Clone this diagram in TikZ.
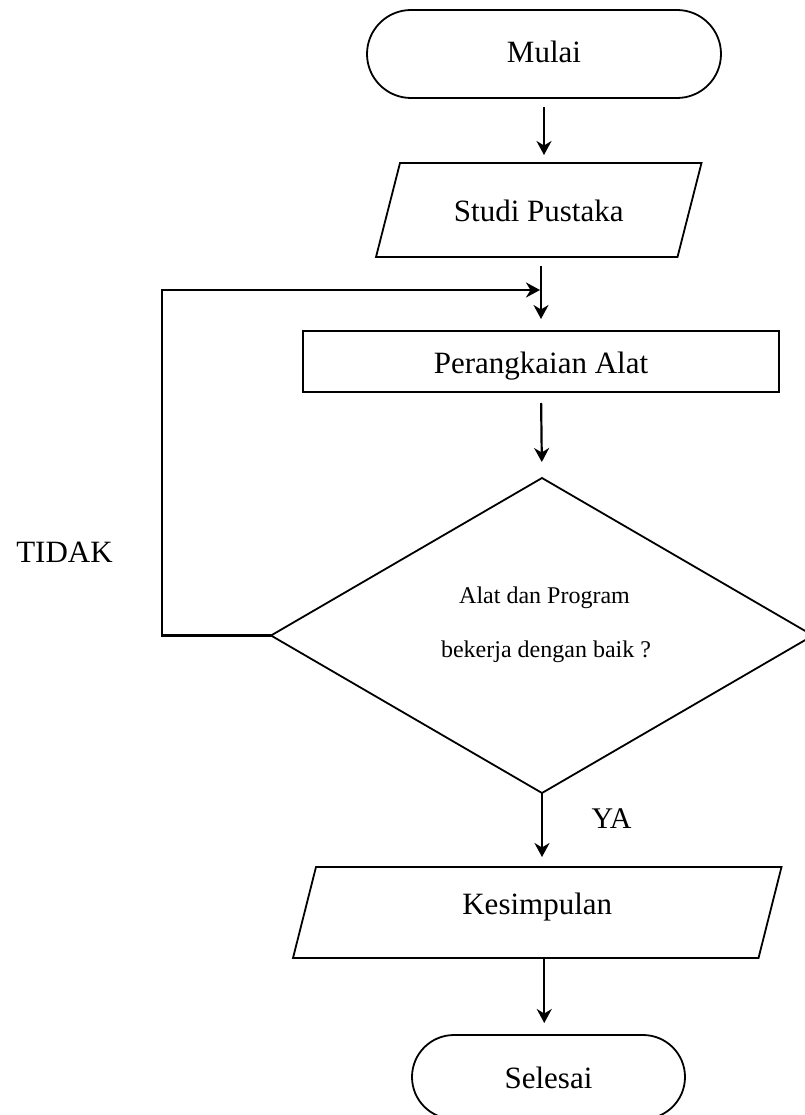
\documentclass[tikz,border=0pt]{standalone}
\usepackage{fontspec}
\setmainfont{Liberation Serif}
\usetikzlibrary{arrows.meta,shapes.geometric}
\begin{document}
\begin{tikzpicture}[x=1pt,y=-1pt,
  every node/.style={font=\fontsize{31}{36}\selectfont, inner sep=0pt, outer sep=0pt},
  shp/.style={draw, line width=1.8pt, line join=miter},
  termbox/.style={shp, rectangle, rounded corners=#1},
  parabox/.style={draw=none, rectangle, text height=22pt, text depth=0pt},
  arr/.style={line width=2.2pt, -{Stealth[length=14pt,width=15pt,inset=4.5pt]}},
  small/.style={font=\fontsize{24}{28}\selectfont},
]
\useasboundingbox (0,0) rectangle (804,1115);

% Start
\node[termbox=44pt, minimum width=354pt, minimum height=88pt, text height=18pt, text depth=0pt] (mulai) at (544,54) {Mulai};

% Studi Pustaka (parallelogram)
\node[parabox, minimum width=301.5pt, minimum height=94pt, text height=24pt] (studi) at (538.75,210) {Studi Pustaka};
\draw[shp] ([xshift=12pt]studi.north west) -- ([xshift=12pt]studi.north east) -- ([xshift=-12pt]studi.south east) -- ([xshift=-12pt]studi.south west) -- cycle;

% Perangkaian Alat
\node[shp, rectangle, minimum width=476pt, minimum height=61pt, text height=23pt, text depth=0pt] (perang) at (541,361.5) {Perangkaian Alat};

% Decision
\node[shp, diamond, minimum width=542pt, minimum height=315pt] (cek) at (542,635.5) {};
\node[small, anchor=base] (q1) at (544.5,603) {Alat dan Program};
\node[small, anchor=base] (q2) at (546,657) {bekerja dengan baik ?};

% Kesimpulan (parallelogram)
\node[parabox, minimum width=465.5pt, minimum height=91pt, text height=22pt, text depth=19pt] (kes) at (537.25,912.5) {Kesimpulan};
\draw[shp] ([xshift=11.5pt]kes.north west) -- ([xshift=11.5pt]kes.north east) -- ([xshift=-11.5pt]kes.south east) -- ([xshift=-11.5pt]kes.south west) -- cycle;

% End
\node[termbox=42pt, minimum width=273pt, minimum height=84pt, text height=22pt, text depth=0pt] (selesai) at (548.5,1077) {Selesai};

% Labels
\node[anchor=base] (tidak) at (64.5,562) {TIDAK};
\node[anchor=base, font=\fontsize{30}{36}\selectfont] (ya) at (611.5,828) {YA};

% Connectors
\coordinate (join) at ([yshift=41pt]perang.north);
\coordinate (lx) at (162,290);
\draw[arr, shorten <=9pt, shorten >=8pt] (mulai.south) -- (mulai.south |- studi.north);
\draw[arr, shorten <=9pt, shorten >=12pt] (perang.north |- studi.south) -- (perang.north);
\draw[arr, shorten <=11pt, shorten >=16pt] (perang.south) -- (cek.north);
\draw[arr, shorten >=10pt] (cek.south) -- (cek.south |- kes.north);
\draw[arr, shorten <=1pt, shorten >=12pt] ([xshift=7pt]kes.south) -- ([xshift=7pt]kes.south |- selesai.north);
\draw[arr, shorten >=1pt] (cek.west) -| (lx) -- (join);
\end{tikzpicture}
\end{document}
